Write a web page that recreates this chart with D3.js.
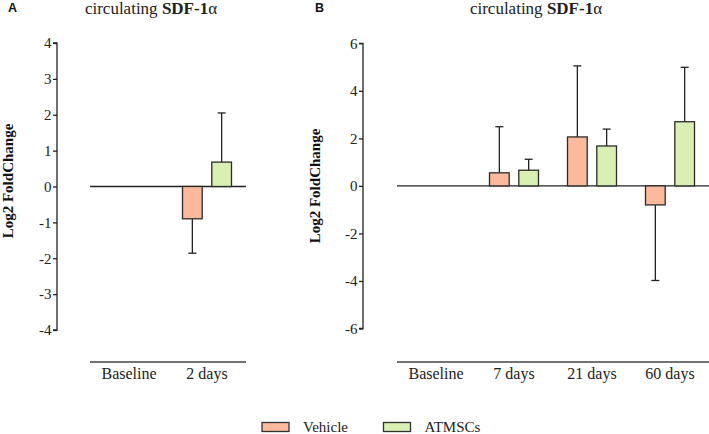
<!DOCTYPE html>
<html><head><meta charset="utf-8">
<script src="https://cdn.jsdelivr.net/npm/d3@7"></script>
<style>body{margin:0;background:#fff}svg{display:block}</style>
</head><body>
<svg id="c" width="709" height="434" font-family="'Liberation Serif', 'Times New Roman', Times, serif"></svg>
<script>
const seriesNames = ["Vehicle", "ATMSCs"];
const colors = ["#FDB99B", "#D9F0B3"];
// Panel A
const catsA = ["Baseline", "2 days"];
const vehA = [null, -0.9];
const vehErrA = [null, -1.86];
const atmA = [null, 0.68];
const atmErrA = [null, 2.05];
const ticksA = [-4, -3, -2, -1, 0, 1, 2, 3, 4];
// Panel B
const catsB = ["Baseline", "7 days", "21 days", "60 days"];
const vehB = [null, 0.55, 2.06, -0.8];
const vehErrB = [null, 2.49, 5.05, -3.98];
const atmB = [null, 0.66, 1.68, 2.7];
const atmErrB = [null, 1.12, 2.39, 4.99];
const ticksB = [-6, -4, -2, 0, 2, 4, 6];

const SERIF = "'Liberation Serif', 'Times New Roman', Times, serif";
const svg = d3.select("#c");
const ink = "#222";

function panel(o) {
  const g = svg.append("g");
  const y = d3.scaleLinear().domain(o.domain).range([o.yBottom, o.yTop]);
  const x = d3.scaleBand().domain(o.cats).range([o.x0, o.x1]);
  const ax = g.append("g").attr("transform", `translate(${o.axisX},0)`)
    .call(d3.axisLeft(y).tickValues(o.ticks).tickSize(4).tickPadding(1.5).tickFormat(d => String(d)));
  ax.attr("font-family", SERIF).attr("font-size", 15);
  ax.select(".domain").attr("stroke", ink).attr("stroke-width", 1.3).attr("d", `M-4,${y(o.domain[0])}H0V${y(o.domain[1])}H-4`);
  ax.selectAll(".tick line").attr("stroke", ink).attr("stroke-width", 1.3);
  ax.selectAll(".tick text").attr("fill", "#222");
  g.append("line").attr("x1", o.x0).attr("x2", o.x1).attr("y1", y(0)).attr("y2", y(0)).attr("stroke", ink).attr("stroke-width", 1.3);
  g.append("line").attr("x1", o.x0).attr("x2", o.x1).attr("y1", o.xAxisY).attr("y2", o.xAxisY).attr("stroke", "#444").attr("stroke-width", 1.5);
  g.selectAll(".cl").data(o.cats).enter().append("text")
    .attr("x", d => x(d) + x.bandwidth() / 2).attr("y", o.xAxisY + 17)
    .attr("text-anchor", "middle").attr("font-family", SERIF).attr("font-size", 16).attr("fill", "#222").text(d => d);
  const bw = 19.7, gap = 9.6;
  const series = [[o.veh, o.vehErr], [o.atm, o.atmErr]];
  series.forEach((s, si) => {
    o.cats.forEach((c, i) => {
      const v = s[0][i];
      if (v == null) return;
      const cx = x(c) + x.bandwidth() / 2 + (si === 0 ? -(gap / 2 + bw / 2) : (gap / 2 + bw / 2));
      const e = s[1][i];
      g.append("line").attr("x1", cx).attr("x2", cx).attr("y1", y(v)).attr("y2", y(e)).attr("stroke", ink).attr("stroke-width", 1.3);
      g.append("line").attr("x1", cx - 4).attr("x2", cx + 4).attr("y1", y(e)).attr("y2", y(e)).attr("stroke", ink).attr("stroke-width", 1.3);
      g.append("rect").attr("x", cx - bw / 2).attr("width", bw)
        .attr("y", Math.min(y(v), y(0))).attr("height", Math.abs(y(v) - y(0)))
        .attr("fill", colors[si]).attr("stroke", "#2b2b2b").attr("stroke-width", 1.3);
    });
  });
  g.append("text").attr("transform", `translate(${o.labelX},${o.labelY}) rotate(-90)`)
    .attr("text-anchor", "middle").attr("font-family", SERIF).attr("font-size", 15).attr("font-weight", "bold").attr("fill", "#111").text("Log2 FoldChange");
  const t = g.append("text").attr("x", o.titleX).attr("y", 14).attr("text-anchor", "middle").attr("font-family", SERIF).attr("font-size", 17).attr("fill", "#222");
  t.append("tspan").text("circulating ");
  t.append("tspan").attr("font-weight", "bold").text("SDF-1");
  t.append("tspan").text("α");
  g.append("text").attr("x", o.letterX).attr("y", 11.5).attr("font-family", "'Liberation Sans', Arial, sans-serif").attr("font-weight", "bold").attr("font-size", 12.5).attr("fill", "#111").text(o.letter);
}

panel({cats: catsA, veh: vehA, vehErr: vehErrA, atm: atmA, atmErr: atmErrA, ticks: ticksA,
  domain: [-4, 4], yBottom: 330, yTop: 43, axisX: 57, x0: 90, x1: 246, xAxisY: 362,
  labelX: 13, labelY: 181, titleX: 151, letter: "A", letterX: 8});
panel({cats: catsB, veh: vehB, vehErr: vehErrB, atm: atmB, atmErr: atmErrB, ticks: ticksB,
  domain: [-6, 6], yBottom: 328.5, yTop: 43.3, axisX: 363, x0: 397, x1: 709, xAxisY: 362,
  labelX: 320, labelY: 186, titleX: 536, letter: "B", letterX: 315});

const lg = svg.append("g");
const legX = [262, 383.5];
seriesNames.forEach((n, i) => {
  lg.append("rect").attr("x", legX[i]).attr("y", 422.5).attr("width", 27).attr("height", 9)
    .attr("fill", colors[i]).attr("stroke", "#333").attr("stroke-width", 1.3);
  lg.append("text").attr("x", legX[i] + 41).attr("y", 431.5).attr("font-family", SERIF).attr("font-size", 15).attr("fill", "#222").text(n);
});
</script>
</body></html>
